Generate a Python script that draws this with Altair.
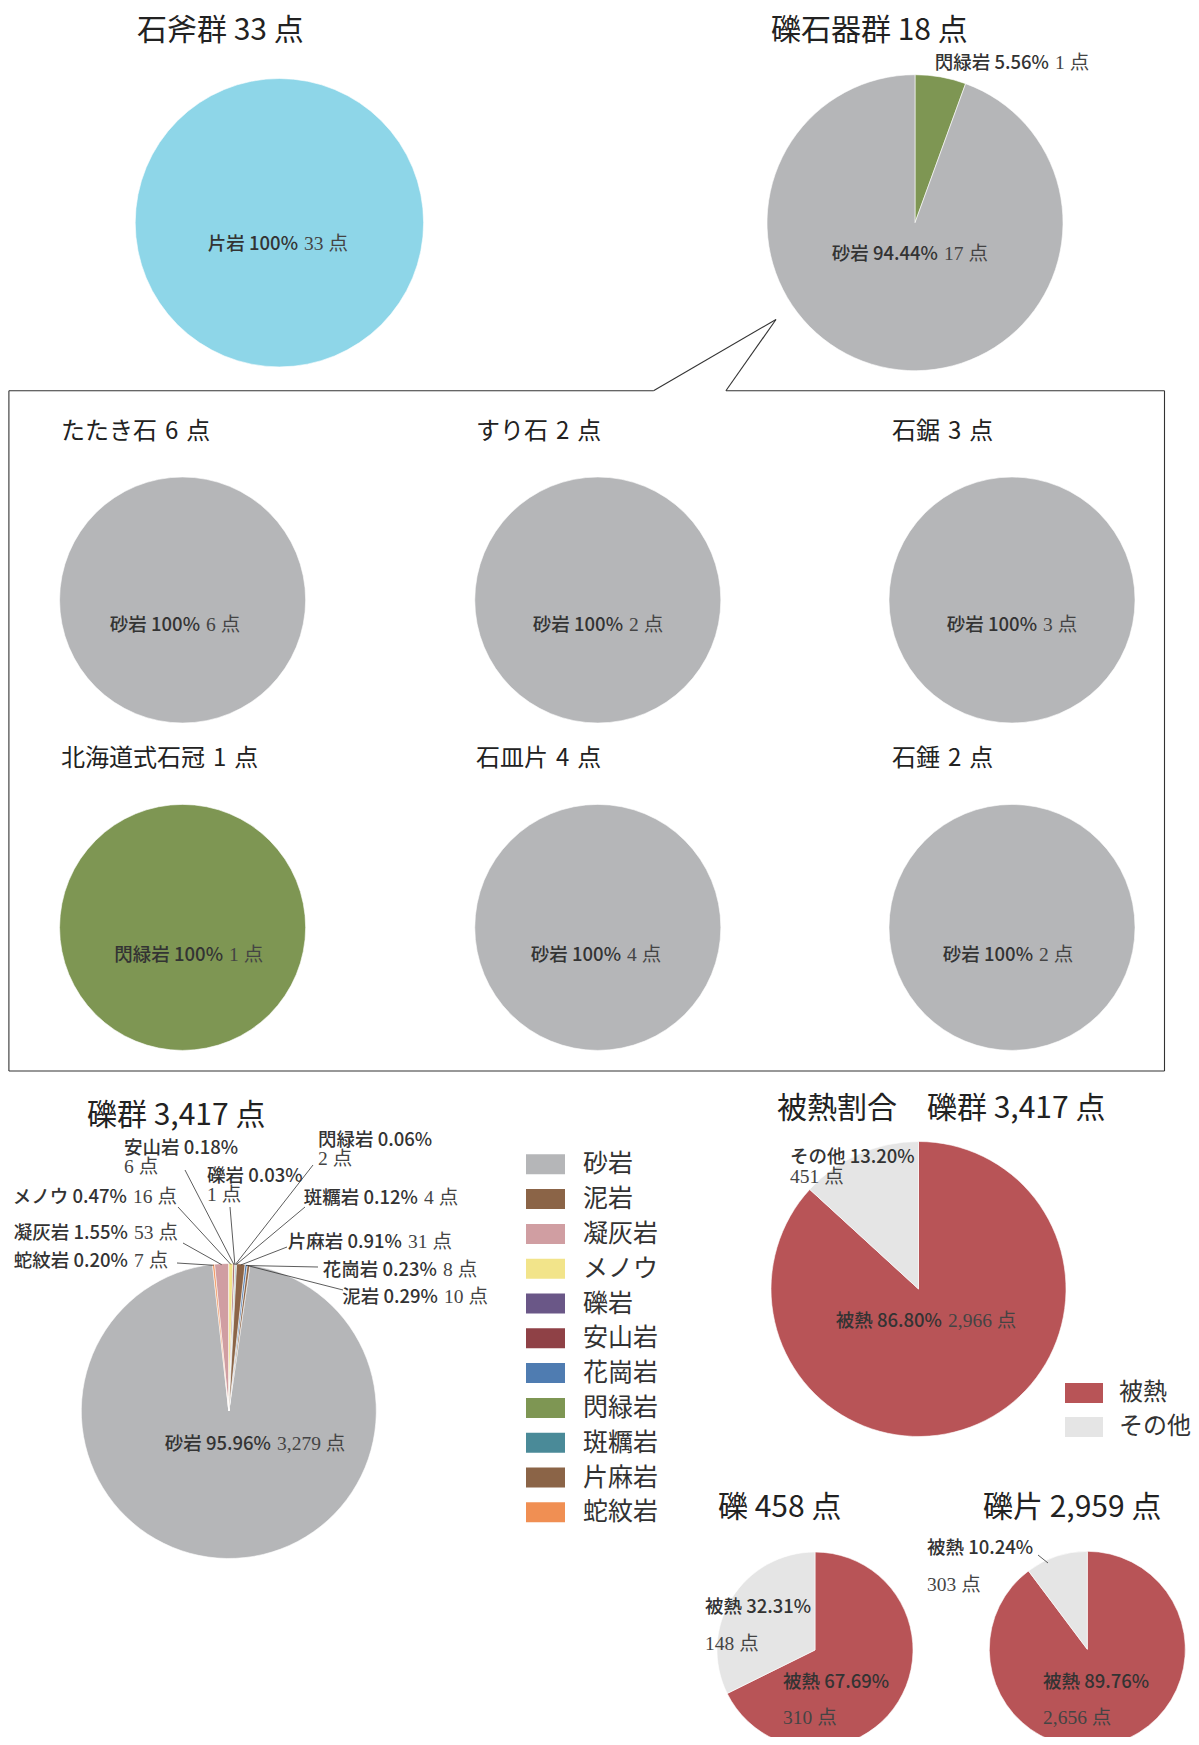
import math
import altair as alt
import pandas as pd

OFF = 8  # page margin: layout below is in page pixels
W, H = 1183, 1729

SANS = "Noto Sans CJK JP"
SERIF = "'Liberation Serif', 'Noto Sans CJK JP'"
SP = "\u2004"  # three-per-em space used in the panel titles

# ---------------- data ----------------
axe_names = ["片岩"]
axe_counts = [33]
tool_names = ["閃緑岩", "砂岩"]
tool_counts = [1, 17]

sub_titles = ["たたき石", "すり石", "石鋸", "北海道式石冠", "石皿片", "石錘"]
sub_rocks = ["砂岩", "砂岩", "砂岩", "閃緑岩", "砂岩", "砂岩"]
sub_counts = [6, 2, 3, 1, 4, 2]

rock_names = ["砂岩", "泥岩", "凝灰岩", "メノウ", "礫岩", "安山岩", "花崗岩", "閃緑岩", "斑糲岩", "片麻岩", "蛇紋岩"]
rock_counts = [3279, 10, 53, 16, 1, 6, 8, 2, 4, 31, 7]
rock_colors = ["#B5B6B8", "#8B6447", "#D09EA2", "#F2E48A", "#6A5787", "#8F4146",
               "#4F7CB1", "#7E9653", "#4A8A98", "#8B6447", "#F08F53"]
slice_order = ["蛇紋岩", "凝灰岩", "メノウ", "安山岩", "礫岩", "閃緑岩", "斑糲岩", "片麻岩", "花崗岩", "泥岩", "砂岩"]
schist_color = "#8ED6E8"

heat_names = ["被熱", "その他"]
heat_colors = ["#B85457", "#E5E5E5"]
heat_all = [2966, 451]
heat_gravel = [310, 148]
heat_frag = [2656, 303]

color_of = dict(zip(rock_names, rock_colors))
color_of["片岩"] = schist_color


def pct(c, total):
    return f"{100 * c / total:.2f}%"


def fmt(n):
    return f"{n:,} 点"


# ---------------- helpers ----------------
layers = []


def pie(names, counts, colors, cx, cy, r, start=0.0, order=None):
    order = order or names
    df = pd.DataFrame({
        "name": names, "value": counts, "color": colors,
        "ord": [order.index(n) for n in names],
    })
    layers.append(
        alt.Chart(df).mark_arc(outerRadius=r, stroke="white", strokeWidth=0.6).encode(
            theta=alt.Theta("value:Q", stack=True,
                            scale=alt.Scale(range=[start, start + 2 * math.pi])),
            color=alt.Color("color:N", scale=None),
            order=alt.Order("ord:Q"),
            x=alt.value(cx - OFF), y=alt.value(cy - OFF),
        )
    )


texts = []


def T(text, x, y, style, align="left"):
    texts.append(dict(text=text, x=x - OFF, y=y - OFF, style=style, align=align))


def inline(a, b, split, y):
    T(a, split, y, "lab", "right")
    T(b, split + 6, y, "cnt", "left")


def stacked(a, b, x, y, y2):
    T(a, x, y, "lab")
    T(b, x, y2, "cnt")


rules = []


def R(x, y, x2, y2, kind="lead"):
    rules.append(dict(x=x - OFF, y=y - OFF, x2=x2 - OFF, y2=y2 - OFF, kind=kind))


# ---------------- top ----------------
T(f"石斧群 {sum(axe_counts)} 点", 137, 31, "title")
pie(axe_names, axe_counts, [schist_color], 279.4, 222.7, 144.2)
inline("片岩 100%", fmt(33), 298, 244)

T(f"礫石器群 {sum(tool_counts)} 点", 771, 31, "title")
pie(tool_names, tool_counts, [color_of[n] for n in tool_names], 915, 222.7, 148)
inline(f"閃緑岩 {pct(1, 18)}", fmt(1), 1049, 63)
inline(f"砂岩 {pct(17, 18)}", fmt(17), 938, 254)

# callout box
box = [(653.5, 390.8), (8.9, 390.8), (8.9, 1071), (1164.5, 1071), (1164.5, 390.8),
       (725.9, 390.8), (776, 319.5), (653.5, 390.8)]
for (a, b), (c, d) in zip(box[:-1], box[1:]):
    R(a, b, c, d, "box")

sub_cx = [182.6, 597.8, 1012]
sub_cy = [600, 927.4]
sub_title_x = [61, 476, 892]
sub_title_y = [432, 759]
sub_label_y = [624.5, 955]
sub_split = [200, 623, 1037, 223, 621, 1033]
for i, (t, rk, c) in enumerate(zip(sub_titles, sub_rocks, sub_counts)):
    row, col = divmod(i, 3)
    T(f"{t}{SP}{c}{SP}点", sub_title_x[col], sub_title_y[row], "sub")
    pie([rk], [c], [color_of[rk]], sub_cx[col], sub_cy[row], 123)
    inline(f"{rk} 100%", fmt(c), sub_split[i], sub_label_y[row])

# ---------------- gravel group ----------------
total = sum(rock_counts)
T(f"礫群 {total:,} 点", 87, 1116, "title")
gcx, gcy, gr = 228.8, 1411, 147.5
cnt = dict(zip(rock_names, rock_counts))
start = -(cnt["蛇紋岩"] + cnt["凝灰岩"]) / total * 2 * math.pi
pie(rock_names, rock_counts, rock_colors, gcx, gcy, gr, start, slice_order)

inline(f"砂岩 {pct(3279, total)}", fmt(3279), 271, 1444)
inline_specs = {  # name: (split x, y)
    "メノウ": (127, 1197), "斑糲岩": (418, 1198), "凝灰岩": (128, 1233),
    "片麻岩": (402, 1242), "蛇紋岩": (128, 1261), "花崗岩": (437, 1270),
    "泥岩": (438, 1297),
}
for n, (sx, sy) in inline_specs.items():
    inline(f"{n} {pct(cnt[n], total)}", fmt(cnt[n]), sx, sy)
stacked_specs = {"安山岩": (124, 1148, 1167), "閃緑岩": (318, 1140, 1159), "礫岩": (207, 1176, 1195)}
for n, (sx, sy, sy2) in stacked_specs.items():
    stacked(f"{n} {pct(cnt[n], total)}", fmt(cnt[n]), sx, sy, sy2)

lead_from = {
    "蛇紋岩": (177, 1263), "凝灰岩": (183, 1243), "メノウ": (178, 1207),
    "安山岩": (185, 1170), "礫岩": (230, 1207), "閃緑岩": (313, 1165),
    "斑糲岩": (305, 1207), "片麻岩": (287, 1247), "花崗岩": (318, 1267), "泥岩": (343, 1290),
}
acc = 0
for n in slice_order:
    mid = start + (acc + cnt[n] / 2) / total * 2 * math.pi
    acc += cnt[n]
    if n in lead_from:
        px = gcx + (gr - 1) * math.sin(mid)
        py = gcy - (gr - 1) * math.cos(mid)
        fx, fy = lead_from[n]
        R(fx, fy, px, py)

# legend
leg_y0, leg_dy = 1164.3, 34.8
leg_df = pd.DataFrame({
    "name": rock_names, "color": rock_colors,
    "x": [526 - OFF] * len(rock_names), "x2": [565 - OFF] * len(rock_names),
    "y": [leg_y0 + i * leg_dy - 10 - OFF for i in range(len(rock_names))],
    "y2": [leg_y0 + i * leg_dy + 10 - OFF for i in range(len(rock_names))],
})
for i, n in enumerate(rock_names):
    T(n, 583, leg_y0 + i * leg_dy, "leg")

# ---------------- heat ----------------
ht = sum(heat_all)
T(f"被熱割合　礫群 {ht:,} 点", 777, 1109, "title")
pie(heat_names, heat_all, heat_colors, 918.5, 1289, 147.5)
stacked(f"その他 {pct(451, ht)}", fmt(451), 790, 1157, 1177)
inline(f"被熱 {pct(2966, ht)}", fmt(2966), 942, 1321)

for i, n in enumerate(heat_names):
    T(n, 1119, 1393 + i * 34, "leg2")
heat_leg = pd.DataFrame({
    "name": heat_names, "color": heat_colors,
    "x": [1065 - OFF] * 2, "x2": [1103 - OFF] * 2,
    "y": [1383 - OFF, 1417 - OFF], "y2": [1403 - OFF, 1437 - OFF],
})

g_t = sum(heat_gravel)
T(f"礫 {g_t} 点", 718, 1508, "title")
pie(heat_names, heat_gravel, heat_colors, 815, 1650, 98)
stacked(f"被熱 {pct(148, g_t)}", fmt(148), 705, 1607, 1644)
stacked(f"被熱 {pct(310, g_t)}", fmt(310), 783, 1682, 1718)

f_t = sum(heat_frag)
T(f"礫片 {f_t:,} 点", 983, 1508, "title")
pie(heat_names, heat_frag, heat_colors, 1087.3, 1649.3, 98)
stacked(f"被熱 {pct(303, f_t)}", fmt(303), 927, 1548, 1585)
stacked(f"被熱 {pct(2656, f_t)}", fmt(2656), 1043, 1682, 1718)
R(1038, 1555, 1048, 1563)

# ---------------- build layers ----------------
for df_leg in (leg_df, heat_leg):
    layers.append(alt.Chart(df_leg).mark_rect().encode(
        x=alt.X("x:Q", scale=None, axis=None), x2="x2:Q",
        y=alt.Y("y:Q", scale=None, axis=None), y2="y2:Q",
        color=alt.Color("color:N", scale=None)))

rdf = pd.DataFrame(rules)
for kind, sw, col in (("box", 1.1, "#333333"), ("lead", 0.8, "#333333")):
    layers.append(alt.Chart(rdf[rdf.kind == kind]).mark_rule(strokeWidth=sw, color=col).encode(
        x=alt.X("x:Q", scale=None, axis=None), y=alt.Y("y:Q", scale=None, axis=None),
        x2="x2:Q", y2="y2:Q"))

styles = {
    "title": dict(font=SANS, fontSize=30, fontWeight="normal", color="#222222"),
    "sub": dict(font=SANS, fontSize=24, fontWeight="normal", color="#222222"),
    "lab": dict(font=SANS, fontSize=18.5, fontWeight=500, color="#333333"),
    "cnt": dict(font=SERIF, fontSize=19.5, fontWeight="normal", color="#444444"),
    "leg": dict(font=SANS, fontSize=25, fontWeight="normal", color="#333333"),
    "leg2": dict(font=SANS, fontSize=24, fontWeight="normal", color="#333333"),
}
tdf = pd.DataFrame(texts)
for (st, al), g in tdf.groupby(["style", "align"]):
    layers.append(alt.Chart(g.reset_index(drop=True)).mark_text(
        baseline="middle", align=al, **styles[st]).encode(
        x=alt.X("x:Q", scale=None, axis=None), y=alt.Y("y:Q", scale=None, axis=None),
        text="text:N"))

chart = alt.layer(*layers).resolve_scale(theta="independent").properties(
    width=W, height=H, padding=0, autosize=alt.AutoSizeParams(type="none"),
    background="white",
).configure_view(stroke=None)

chart.save("out.html", embed_options={"renderer": "svg", "actions": False})
